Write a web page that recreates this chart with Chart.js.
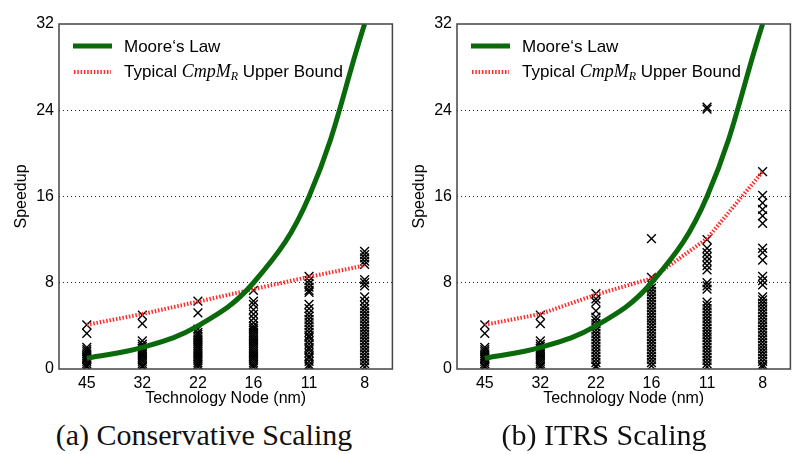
<!DOCTYPE html>
<html>
<head>
<meta charset="utf-8">
<script src="https://cdn.jsdelivr.net/npm/chart.js@4/dist/chart.umd.min.js"></script>
<style>
  body { margin: 0; background: #fff; width: 805px; height: 454px; position: relative; overflow: hidden; }
  .panel { position: absolute; top: 0; width: 400px; height: 410px; }
  .caption { position: absolute; top: 420px; width: 400px; text-align: center;
             font-family: "Liberation Serif", "DejaVu Serif", serif; font-size: 30px; line-height: 30px; color: #111; }
</style>
</head>
<body>
<div class="panel" style="left:0px"><canvas id="chartA" width="400" height="410"></canvas></div>
<div class="panel" style="left:398px"><canvas id="chartB" width="400" height="410"></canvas></div>
<div class="caption" style="left:4px">(a) Conservative Scaling</div>
<div class="caption" style="left:404px">(b) ITRS Scaling</div>
<script>
// technology nodes (x axis)
var nodes = ['45', '32', '22', '16', '11', '8'];
var yTicks = [0, 8, 16, 24, 32];

// Moore's law reference curve
var mooreLaw = [1, 2, 4, 8, 16, 32];

// typical CmpM_R upper bound
var boundConservative = [4.1, 5.1, 6.25, 7.4, 8.55, 9.6];
var boundItrs = [4.1, 5.1, 6.9, 8.4, 12.1, 18.3];

// measured speedups per node - conservative scaling
var consN45 = [4.1, 3.3, 2.0, 1.8, 1.6, 1.4, 1.2, 1.0, 0.9, 0.7, 0.5, 0.3, 0.2];
var consN32 = [5.0, 4.2, 2.6, 2.3, 2.1, 1.9, 1.7, 1.5, 1.3, 1.1, 0.9, 0.7, 0.5, 0.3, 0.2];
var consN22 = [6.3, 5.2, 3.7, 3.4, 3.2, 3.0, 2.8, 2.6, 2.4, 2.2, 2.0, 1.8, 1.6, 1.4, 1.2, 1.0, 0.8, 0.6, 0.4, 0.2];
var consN16 = [7.3, 6.3, 6.0, 5.5, 5.1, 4.7, 4.3, 4.0, 3.8, 3.6, 3.4, 3.2, 3.0, 2.8, 2.6, 2.4, 2.2, 2.0, 1.8, 1.6, 1.4, 1.2, 1.0, 0.8, 0.6, 0.4, 0.2];
var consN11 = [8.6, 8.2, 7.9, 7.6, 7.3, 7.1, 6.0, 5.6, 5.2, 4.9, 4.6, 4.3, 4.0, 3.7, 3.4, 3.1, 2.9, 2.6, 2.3, 2.0, 1.8, 1.5, 1.2, 1.0, 0.7, 0.4, 0.2];
var consN8 = [10.9, 10.6, 10.3, 10.0, 9.7, 8.3, 8.0, 7.7, 6.7, 6.3, 5.9, 5.6, 5.3, 5.0, 4.7, 4.4, 4.1, 3.8, 3.5, 3.2, 2.9, 2.6, 2.3, 2.0, 1.7, 1.4, 1.1, 0.8, 0.5, 0.2];

// measured speedups per node - ITRS scaling
var itrsN45 = [4.1, 3.3, 2.0, 1.8, 1.6, 1.4, 1.2, 1.0, 0.9, 0.7, 0.5, 0.3, 0.2];
var itrsN32 = [5.0, 4.2, 2.6, 2.3, 2.1, 1.9, 1.7, 1.5, 1.3, 1.1, 0.9, 0.7, 0.5, 0.3, 0.2];
var itrsN22 = [7.0, 6.5, 6.2, 5.4, 4.8, 4.5, 4.2, 3.9, 3.6, 3.3, 3.0, 2.7, 2.4, 2.1, 1.8, 1.5, 1.2, 0.9, 0.6, 0.3, 0.2];
var itrsN16 = [12.1, 8.5, 7.8, 7.5, 7.2, 6.9, 6.6, 6.3, 6.0, 5.7, 5.4, 5.1, 4.8, 4.5, 4.2, 3.9, 3.6, 3.3, 3.0, 2.7, 2.4, 2.1, 1.8, 1.5, 1.2, 0.9, 0.6, 0.3];
var itrsN11 = [24.3, 24.1, 12.0, 11.2, 10.8, 10.4, 10.0, 9.6, 9.2, 8.0, 7.7, 7.4, 6.2, 5.9, 5.6, 5.3, 5.0, 4.7, 4.4, 4.1, 3.8, 3.5, 3.2, 2.9, 2.6, 2.3, 2.0, 1.7, 1.4, 1.1, 0.8, 0.5, 0.2];
var itrsN8 = [18.3, 16.1, 15.4, 14.8, 14.2, 13.5, 11.2, 10.8, 10.1, 8.6, 8.2, 7.8, 6.7, 6.4, 6.1, 5.8, 5.5, 5.2, 4.9, 4.6, 4.3, 4.0, 3.7, 3.4, 3.1, 2.8, 2.5, 2.2, 1.9, 1.6, 1.3, 1.0, 0.7, 0.4, 0.2];

// legend texts
var mooreName = 'Moore‘s Law';
var boundName = ['Typical ', 'CmpM', 'R', ' Upper Bound'];

var GREEN = '#0a690a';
var RED = '#ff2a2a';
var SANS = '"Liberation Sans", Arial, sans-serif';

function toPoints(cols) {
	var pts = [];
	for (let i = 0; i < cols.length; i++) {
		cols[i].forEach(v => pts.push({ x: nodes[i], y: v }));
	}
	return pts;
}

// frame around the plot + legend inside it
var framePlugin = {
	id: 'frameLegend',
	afterDatasetsDraw(chart) {
		var ctx = chart.ctx, a = chart.chartArea;
		ctx.save();
		ctx.strokeStyle = '#444';
		ctx.lineWidth = 1.5;
		ctx.strokeRect(a.left, a.top, a.right - a.left, a.bottom - a.top);

		// legend line 1
		ctx.strokeStyle = GREEN;
		ctx.lineWidth = 5;
		ctx.beginPath(); ctx.moveTo(73, 46); ctx.lineTo(112, 46); ctx.stroke();
		ctx.fillStyle = '#000';
		ctx.textBaseline = 'middle';
		ctx.font = '17px ' + SANS;
		ctx.fillText(mooreName, 124, 47);

		// legend line 2
		ctx.strokeStyle = RED;
		ctx.lineWidth = 4;
		ctx.setLineDash([1.5, 1.8]);
		ctx.beginPath(); ctx.moveTo(74, 72); ctx.lineTo(111, 72); ctx.stroke();
		ctx.setLineDash([]);
		var x = 124;
		ctx.font = '17px ' + SANS;
		ctx.fillText(boundName[0], x, 72); x += ctx.measureText(boundName[0]).width;
		ctx.font = 'italic 18px "Liberation Serif", serif';
		ctx.fillText(boundName[1], x, 72); x += ctx.measureText(boundName[1]).width;
		ctx.font = 'italic 12px "Liberation Serif", serif';
		ctx.fillText(boundName[2], x, 77); x += ctx.measureText(boundName[2]).width;
		ctx.font = '17px ' + SANS;
		ctx.fillText(boundName[3], x, 72);
		ctx.restore();
	}
};

function makeChart(id, bound, cols) {
	var ctx = document.getElementById(id).getContext('2d');
	return new Chart(ctx, {
		type: 'line',
		data: {
			labels: nodes,
			datasets: [{
				data: mooreLaw,
				borderColor: GREEN,
				borderWidth: 5,
				pointRadius: 0,
				tension: 0.4
			}, {
				data: bound,
				borderColor: RED,
				borderWidth: 4,
				borderDash: [1.5, 1.8],
				pointRadius: 0,
				tension: 0
			}, {
				data: toPoints(cols),
				showLine: false,
				pointStyle: 'crossRot',
				pointRadius: 6.2,
				pointBorderWidth: 1.4,
				pointBorderColor: '#000',
				pointBackgroundColor: '#000'
			}]
		},
		options: {
			responsive: false,
			animation: false,
			layout: { padding: { top: 24, right: 6, left: 0, bottom: 0 } },
			plugins: { legend: { display: false }, tooltip: { enabled: false } },
			scales: {
				x: {
					type: 'category',
					offset: true,
					grid: { display: false, drawTicks: false },
					border: { display: false },
					ticks: { color: '#000', padding: 5, font: { family: SANS, size: 16 } },
					title: { display: true, text: 'Technology Node (nm)', color: '#000', padding: { top: 0, bottom: 2 }, font: { family: SANS, size: 16 } },
					afterFit: s => { s.height = 41; }
				},
				y: {
					min: 0, max: 32,
					afterBuildTicks: s => { s.ticks = yTicks.map(v => ({ value: v })); },
					grid: {
						drawTicks: false,
						color: c => (c.tick && (c.tick.value === 0 || c.tick.value === 32)) ? 'rgba(0,0,0,0)' : '#222',
						lineWidth: 1
					},
					border: { display: false, dash: [1, 3] },
					ticks: { color: '#000', padding: 5, font: { family: SANS, size: 16 } },
					title: { display: true, text: 'Speedup', color: '#000', padding: { top: 12, bottom: 0 }, font: { family: SANS, size: 16 } },
					afterFit: s => { s.width = 59; }
				}
			}
		},
		plugins: [framePlugin]
	});
}

makeChart('chartA', boundConservative, [consN45, consN32, consN22, consN16, consN11, consN8]);
makeChart('chartB', boundItrs, [itrsN45, itrsN32, itrsN22, itrsN16, itrsN11, itrsN8]);
</script>
</body>
</html>
